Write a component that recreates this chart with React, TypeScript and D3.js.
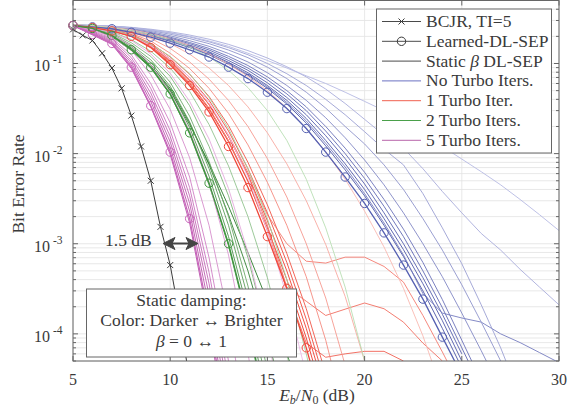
import * as d3 from "d3";

// Eb/N0 grid (dB)
const snr = [5, 6, 7, 8, 9, 10, 11, 12, 13, 14, 15, 16, 17, 18, 19, 20, 21, 22, 23, 24, 25, 26, 27, 28, 29, 30];
const bcjrSnr = [5, 5.5, 6, 6.5, 7, 7.5, 8, 8.5, 9, 9.5, 10, 10.5, 11];
const bcjrBer = [0.239, 0.205, 0.18, 0.13, 0.089, 0.053, 0.0264, 0.012, 0.005, 0.00154, 5.8e-4, 1.5e-4, 3e-5];

// learned DL-SEP curves
const learnedBlue = [0.264, 0.255, 0.243, 0.222, 0.196, 0.168, 0.142, 0.118, 0.091, 0.068, 0.048, 0.0316, 0.019, 0.0104, 0.0055, 0.0028, 0.00132, 5.8e-4, 2.43e-4, 9.2e-5, 3.5e-5];
const learnedRed = [0.264, 0.25, 0.23, 0.2, 0.15, 0.097, 0.057, 0.029, 0.012, 0.0042, 0.0012, 3.2e-4, 7e-5, 1.2e-5];
const learnedGreen = [0.264, 0.245, 0.205, 0.142, 0.091, 0.046, 0.017, 0.0047, 0.001, 1.4e-4, 1.2e-5];
const learnedPink = [0.264, 0.21, 0.167, 0.091, 0.034, 0.0104, 0.0019, 1.5e-4, 8e-6];

// static beta curves, darker (beta=0) -> brighter (beta=1)
const staticBlue = [
  [0.265, 0.257, 0.246, 0.228, 0.203, 0.176, 0.15, 0.125, 0.098, 0.074, 0.053, 0.0355, 0.0218, 0.0122, 0.0066, 0.0034, 0.0016, 7.2e-4, 3.0e-4, 1.15e-4, 4.2e-5],
  [0.265, 0.258, 0.248, 0.231, 0.208, 0.181, 0.155, 0.13, 0.103, 0.079, 0.057, 0.039, 0.0245, 0.014, 0.0077, 0.004, 0.0019, 8.6e-4, 3.6e-4, 1.4e-4, 5e-5],
  [0.266, 0.259, 0.25, 0.234, 0.212, 0.186, 0.16, 0.135, 0.108, 0.084, 0.061, 0.042, 0.027, 0.0158, 0.0088, 0.0046, 0.0022, 1.0e-3, 4.2e-4, 1.65e-4, 6e-5],
  [0.266, 0.26, 0.252, 0.237, 0.216, 0.191, 0.166, 0.141, 0.114, 0.089, 0.066, 0.046, 0.03, 0.0178, 0.01, 0.0053, 0.0026, 1.2e-3, 5.0e-4, 1.95e-4, 7e-5, 2.5e-5],
  [0.267, 0.261, 0.254, 0.24, 0.22, 0.196, 0.171, 0.147, 0.12, 0.095, 0.071, 0.05, 0.033, 0.02, 0.0115, 0.0062, 0.0031, 1.45e-3, 6.2e-4, 2.4e-4, 8.5e-5, 3e-5],
  [0.265, 0.257, 0.246, 0.229, 0.205, 0.178, 0.152, 0.127, 0.1, 0.076, 0.055, 0.037, 0.023, 0.013, 0.0071, 0.0036, 0.0017, 7.5e-4, 2.8e-4, 1.7e-4, 1.5e-4, 1.35e-4, 1.0e-4, 8e-5, 6.2e-5, 4.8e-5],
  [0.267, 0.262, 0.256, 0.244, 0.226, 0.203, 0.179, 0.155, 0.129, 0.104, 0.079, 0.057, 0.039, 0.025, 0.015, 0.0085, 0.0045, 0.0022, 1.0e-3, 4.3e-4, 1.7e-4, 6.5e-5, 2.4e-5],
  [0.268, 0.263, 0.258, 0.248, 0.232, 0.211, 0.189, 0.166, 0.141, 0.116, 0.091, 0.068, 0.048, 0.032, 0.02, 0.0128, 0.0075, 0.004, 0.0019, 8.5e-4, 3.5e-4, 1.35e-4, 5e-5],
  [0.268, 0.264, 0.259, 0.25, 0.236, 0.218, 0.197, 0.174, 0.15, 0.125, 0.1, 0.077, 0.057, 0.04, 0.027, 0.0175, 0.0112, 0.0075, 0.0036, 0.0015, 6e-4, 2.1e-4, 7e-5, 2e-5],
  [0.269, 0.265, 0.26, 0.252, 0.24, 0.225, 0.207, 0.186, 0.163, 0.139, 0.115, 0.092, 0.071, 0.052, 0.036, 0.024, 0.016, 0.0115, 0.0068, 0.0038, 0.0022, 0.0013, 8.5e-4, 5.2e-4, 3.3e-4, 2.1e-4],
  [0.27, 0.265, 0.258, 0.248, 0.235, 0.22, 0.2, 0.178, 0.155, 0.13, 0.108, 0.089, 0.073, 0.06, 0.048, 0.038, 0.03, 0.0225, 0.0165, 0.012, 0.0087, 0.0063, 0.0045, 0.0031, 0.0021, 0.0014],
];
const staticRed = [
  [0.264, 0.25, 0.23, 0.2, 0.152, 0.1, 0.06, 0.031, 0.0135, 0.0049, 0.0015, 4.0e-4, 9e-5, 1.6e-5],
  [0.265, 0.252, 0.233, 0.204, 0.158, 0.106, 0.065, 0.035, 0.0155, 0.0058, 0.0018, 5e-4, 1.15e-4, 2.1e-5],
  [0.265, 0.253, 0.235, 0.207, 0.163, 0.112, 0.07, 0.039, 0.0178, 0.0068, 0.0022, 6.2e-4, 1.45e-4, 2.7e-5],
  [0.266, 0.254, 0.237, 0.21, 0.168, 0.118, 0.076, 0.043, 0.0205, 0.008, 0.0027, 7.8e-4, 1.9e-4, 3.6e-5],
  [0.264, 0.251, 0.232, 0.202, 0.155, 0.103, 0.062, 0.032, 0.014, 0.005, 0.0014, 3.1e-4, 7.9e-5, 5.5e-5, 6e-5, 6.4e-5, 6.4e-5, 5e-5, 3e-5],
  [0.265, 0.252, 0.233, 0.204, 0.158, 0.106, 0.065, 0.035, 0.0155, 0.0058, 0.0016, 3.3e-4, 2.3e-4, 1.6e-4, 1.88e-4, 2.2e-4, 1.9e-4, 1.35e-4, 7.9e-5, 5e-5, 2.7e-5],
  [0.265, 0.253, 0.235, 0.206, 0.16, 0.108, 0.066, 0.035, 0.016, 0.0062, 0.0021, 1.0e-3, 6.4e-4, 6.1e-4, 7.1e-4, 7.1e-4, 5.6e-4, 3.75e-4, 1.6e-4, 6.3e-5, 2.4e-5],
  [0.266, 0.256, 0.24, 0.215, 0.178, 0.13, 0.088, 0.053, 0.028, 0.0125, 0.0048, 0.0016, 4.3e-4, 8.5e-5, 1.2e-5],
  [0.267, 0.258, 0.244, 0.222, 0.19, 0.147, 0.104, 0.067, 0.039, 0.02, 0.0088, 0.0033, 0.001, 2.5e-4, 4.5e-5],
  [0.268, 0.26, 0.248, 0.23, 0.203, 0.167, 0.127, 0.089, 0.057, 0.033, 0.017, 0.0077, 0.003, 9.8e-4, 2.6e-4, 5e-5],
  [0.268, 0.262, 0.252, 0.237, 0.215, 0.188, 0.158, 0.128, 0.098, 0.072, 0.05, 0.032, 0.019, 0.0105, 0.0052, 0.0023, 9.2e-4, 3.2e-4, 9.5e-5, 2.3e-5],
];
const staticGreen = [
  [0.265, 0.245, 0.2, 0.145, 0.093, 0.05, 0.021, 0.0078, 0.0026, 8e-4, 2.3e-4, 6e-5, 1.5e-5],
  [0.265, 0.246, 0.203, 0.148, 0.097, 0.053, 0.022, 0.0075, 0.0021, 5e-4, 9e-5, 1.4e-5],
  [0.264, 0.243, 0.198, 0.14, 0.089, 0.045, 0.0165, 0.0045, 9.5e-4, 1.3e-4, 1.1e-5],
  [0.265, 0.246, 0.204, 0.148, 0.097, 0.051, 0.0195, 0.0056, 0.0012, 1.8e-4, 1.7e-5],
  [0.265, 0.248, 0.208, 0.154, 0.103, 0.056, 0.0225, 0.0068, 0.0016, 2.5e-4, 2.6e-5],
  [0.266, 0.25, 0.213, 0.161, 0.11, 0.062, 0.026, 0.0082, 0.002, 3.4e-4, 4e-5],
  [0.266, 0.252, 0.218, 0.17, 0.12, 0.072, 0.034, 0.012, 0.0034, 7e-4, 1e-4, 1e-5],
  [0.267, 0.255, 0.226, 0.184, 0.137, 0.089, 0.049, 0.021, 0.0073, 0.002, 4.2e-4, 6e-5, 6e-6],
  [0.267, 0.258, 0.238, 0.205, 0.165, 0.12, 0.077, 0.042, 0.019, 0.0068, 0.0019, 4e-4, 6e-5, 7e-6],
  [0.268, 0.262, 0.25, 0.232, 0.21, 0.183, 0.152, 0.118, 0.084, 0.054, 0.03, 0.014, 0.0052, 0.0015, 3.3e-4, 5e-5, 6e-6],
];
const staticPink = [
  [0.264, 0.208, 0.163, 0.088, 0.033, 0.0098, 0.0017, 1.3e-4, 6e-6],
  [0.265, 0.213, 0.17, 0.096, 0.038, 0.0118, 0.0023, 2.0e-4, 1.0e-5],
  [0.265, 0.216, 0.175, 0.102, 0.042, 0.0135, 0.0028, 2.7e-4, 1.5e-5],
  [0.266, 0.22, 0.18, 0.108, 0.047, 0.0155, 0.0034, 3.6e-4, 2.2e-5],
  [0.266, 0.223, 0.186, 0.116, 0.053, 0.018, 0.0042, 4.8e-4, 3.2e-5],
  [0.267, 0.227, 0.192, 0.125, 0.06, 0.022, 0.0055, 7e-4, 5e-5, 3e-6],
  [0.267, 0.232, 0.2, 0.14, 0.075, 0.031, 0.009, 0.0016, 1.5e-4, 8e-6],
  [0.268, 0.238, 0.21, 0.158, 0.097, 0.048, 0.018, 0.0048, 7.5e-4, 6e-5, 4e-6],
  [0.268, 0.245, 0.222, 0.18, 0.128, 0.078, 0.038, 0.0145, 0.0041, 8e-4, 1e-4, 7e-6],
  [0.269, 0.252, 0.233, 0.2, 0.158, 0.112, 0.07, 0.037, 0.016, 0.0055, 0.0014, 2.6e-4, 3.5e-5],
];

const xTicks = [5, 10, 15, 20, 25, 30];
const yDecades = [-1, -2, -3, -4];
const legendLabels = ["BCJR, TI=5", "Learned-DL-SEP", "Static \u03b2 DL-SEP", "No Turbo Iters.", "1 Turbo Iter.", "2 Turbo Iters.", "5 Turbo Iters."];

const FONT = '"Liberation Serif", "DejaVu Serif", "Times New Roman", serif';
const TXT = "#3a3a3a";

const groups = [
  { statics: staticBlue, learned: learnedBlue, dark: "#4a53a6", light: "#b7bae3", mark: "#5560b2" },
  { statics: staticRed, learned: learnedRed, dark: "#ee3a2a", light: "#f9b9b1", mark: "#f0473a" },
  { statics: staticGreen, learned: learnedGreen, dark: "#2b7a2b", light: "#b9dfb3", mark: "#3d963d" },
  { statics: staticPink, learned: learnedPink, dark: "#b84fa9", light: "#ebb8e5", mark: "#c865bb" },
];

export default function App() {
  const W = 579, H = 412;
  const left = 73, right = 559, top = 0.5, bottom = 361;
  const x = d3.scaleLinear().domain([5, 30]).range([left, right]);
  const y = d3.scaleLog().domain([5e-5, 0.5]).range([bottom, top]);
  const line = d3.line<[number, number]>().x((d) => x(d[0])).y((d) => y(d[1]));
  const pts = (xs: number[], vs: number[]) => vs.map((v, i) => [xs[i], v] as [number, number]);

  const minorY: number[] = [];
  for (const dec of [-5, -4, -3, -2, -1]) {
    for (let m = 1; m <= 9; m++) {
      const v = m * Math.pow(10, dec);
      if (v >= 5e-5 && v <= 0.5) minorY.push(v);
    }
  }

  const legX = 376.5, legY = 9, legW = 175, legH = 144;
  const rowY = (i: number) => 21.5 + i * 19.8;
  const legColors = ["#4a4a4a", "#4a4a4a", "#4a4a4a", "#6b72c2", "#f0604f", "#4aa04a", "#b866aa"];

  return (
    <svg width={W} height={H} style={{ position: "absolute", left: 0, top: 0, background: "#fff", fontFamily: FONT }}>
      <defs>
        <clipPath id="plot">
          <rect x={left} y={top} width={right - left} height={bottom - top} />
        </clipPath>
      </defs>
      {/* grid */}
      {minorY.map((v, i) => (
        <line key={"gy" + i} x1={left} x2={right} y1={y(v)} y2={y(v)} stroke="#e2e2e2" strokeWidth={0.8} />
      ))}
      {xTicks.map((t) => (
        <line key={"gx" + t} x1={x(t)} x2={x(t)} y1={top} y2={bottom} stroke="#e2e2e2" strokeWidth={0.8} />
      ))}

      <g clipPath="url(#plot)" fill="none">
        {groups.map((g, gi) =>
          g.statics.map((c, ci) => {
            const t = Math.pow(ci / (g.statics.length - 1), 1.3);
            return (
              <path key={`s${gi}-${ci}`} d={line(pts(snr, c)) || ""} stroke={d3.interpolateRgb(g.dark, g.light)(t)} strokeWidth={0.9} />
            );
          })
        )}
        {groups.map((g, gi) => (
          <path key={"l" + gi} d={line(pts(snr, g.learned)) || ""} stroke={g.mark} strokeWidth={1.3} />
        ))}
        <path d={line(pts(bcjrSnr, bcjrBer)) || ""} stroke="#3a3a3a" strokeWidth={1} />
      </g>

      {/* markers */}
      {groups.map((g, gi) =>
        g.learned.map((v, i) =>
          v >= 5e-5 ? (
            <circle key={`m${gi}-${i}`} cx={x(snr[i])} cy={y(v)} r={4.2} fill="none" stroke={g.mark} strokeWidth={1} />
          ) : null
        )
      )}
      {bcjrBer.map((v, i) =>
        v >= 5e-5 ? (
          <path key={"b" + i} d={`M${x(bcjrSnr[i]) - 3},${y(v) - 3}L${x(bcjrSnr[i]) + 3},${y(v) + 3}M${x(bcjrSnr[i]) - 3},${y(v) + 3}L${x(bcjrSnr[i]) + 3},${y(v) - 3}`} stroke="#3a3a3a" strokeWidth={1} />
        ) : null
      )}

      {/* frame and ticks */}
      <rect x={left} y={top} width={right - left} height={bottom - top} fill="none" stroke="#666" strokeWidth={1} />
      {xTicks.map((t) => (
        <g key={"xt" + t}>
          <line x1={x(t)} x2={x(t)} y1={bottom} y2={bottom - 5} stroke="#666" />
          <line x1={x(t)} x2={x(t)} y1={top} y2={top + 5} stroke="#666" />
          <text x={x(t)} y={385} textAnchor="middle" fontSize={16} fill={TXT}>{t}</text>
        </g>
      ))}
      {minorY.map((v, i) => {
        const major = Math.abs(Math.log10(v) - Math.round(Math.log10(v))) < 1e-9;
        const len = major ? 5 : 3;
        return (
          <g key={"yt" + i}>
            <line x1={left} x2={left + len} y1={y(v)} y2={y(v)} stroke="#666" />
            <line x1={right} x2={right - len} y1={y(v)} y2={y(v)} stroke="#666" />
          </g>
        );
      })}
      {yDecades.map((d) => (
        <text key={"yl" + d} x={34} y={y(Math.pow(10, d)) + 8} fontSize={16} fill={TXT}>
          10<tspan fontSize={11.5} dx={3} dy={-8}>{d}</tspan>
        </text>
      ))}

      {/* axis labels */}
      <text transform="translate(24,184) rotate(-90)" textAnchor="middle" fontSize={17.5} fill={TXT}>Bit Error Rate</text>
      <text x={317} y={401} textAnchor="middle" fontSize={17.5} fill={TXT}>
        <tspan fontStyle="italic">E</tspan>
        <tspan fontSize={12} fontStyle="italic" dy={3}>b</tspan>
        <tspan dy={-3}>/</tspan>
        <tspan fontStyle="italic">N</tspan>
        <tspan fontSize={12} dy={3}>0</tspan>
        <tspan dy={-3}> (dB)</tspan>
      </text>

      {/* 1.5 dB annotation */}
      <text x={105} y={246} fontSize={17.5} fill={TXT}>1.5 dB</text>
      <g fill="#444" stroke="#444">
        <line x1={170} x2={191} y1={243.5} y2={243.5} strokeWidth={2} />
        <path d="M163,243.5 L175,237.5 L172,243.5 L175,249.5 Z" />
        <path d="M198,243.5 L186,237.5 L189,243.5 L186,249.5 Z" />
      </g>

      {/* static damping box */}
      <rect x={86.5} y={289} width={210} height={68} fill="#fff" stroke="#666" strokeWidth={1} />
      <g fontSize={17.5} fill={TXT} textAnchor="middle">
        <text x={191.5} y={306}>Static damping:</text>
        <text x={191.5} y={326}>Color: Darker {"\u2194"} Brighter</text>
        <text x={191.5} y={346.5}>
          <tspan fontStyle="italic">{"\u03b2"}</tspan> = 0 {"\u2194"} 1
        </text>
      </g>

      {/* legend */}
      <rect x={legX} y={legY} width={legW} height={legH} fill="#fff" stroke="#666" strokeWidth={1} />
      {legendLabels.map((lab, i) => {
        const ry = rowY(i);
        return (
          <g key={"lg" + i}>
            <line x1={382} x2={421} y1={ry} y2={ry} stroke={legColors[i]} strokeWidth={1} />
            {i === 0 && <path d={`M${398.5},${ry - 3}L${404.5},${ry + 3}M${398.5},${ry + 3}L${404.5},${ry - 3}`} stroke="#3a3a3a" />}
            {i === 1 && <circle cx={401.5} cy={ry} r={4.2} fill="none" stroke="#3a3a3a" />}
            <text x={426} y={ry + 5.5} fontSize={17.5} fill={TXT}>
              {i === 2 ? (
                <>
                  Static <tspan fontStyle="italic">{"\u03b2"}</tspan> DL-SEP
                </>
              ) : (
                lab
              )}
            </text>
          </g>
        );
      })}
    </svg>
  );
}
